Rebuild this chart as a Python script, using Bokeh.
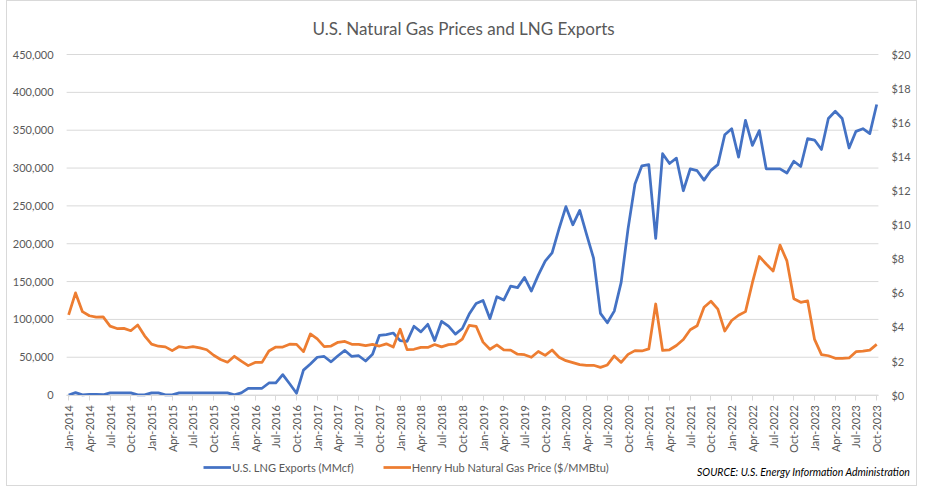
import math
from bokeh.plotting import figure
from bokeh.models import (Range1d, LinearAxis, FixedTicker, NumeralTickFormatter,
                          Legend, LegendItem, ColumnDataSource)
from bokeh.embed import file_html
from bokeh.resources import INLINE

# ---------------- data ----------------
years = list(range(2014, 2024))
month_names = ["Jan", "Feb", "Mar", "Apr", "May", "Jun",
               "Jul", "Aug", "Sep", "Oct", "Nov", "Dec"]
months = [f"{m}-{y}" for y in years for m in month_names][:118]

# U.S. LNG Exports (MMcf)
lng_2014 = [200, 3200, 300, 800, 1000, 500, 3000, 3000, 3000, 3000, 200, 300]
lng_2015 = [3000, 3000, 300, 200, 3000, 3000, 3000, 3000, 3000, 3000, 3000, 3000]
lng_2016 = [300, 3000, 9000, 9000, 9000, 16000, 16000, 27000, 15000, 2500, 33000, 41000]
lng_2017 = [50000, 51000, 44000, 52000, 59000, 51000, 52000, 45000, 54000, 79000, 80000, 82000]
lng_2018 = [72000, 71000, 91000, 83500, 93500, 72000, 97500, 91000, 80500, 88000, 107000, 121000]
lng_2019 = [125000, 101000, 130000, 125500, 144000, 142000, 155500, 137500, 158500, 177000, 188000, 219500]
lng_2020 = [249000, 225000, 244000, 212000, 181000, 108000, 95500, 111000, 149000, 220000, 279000, 303000]
lng_2021 = [304500, 207000, 319000, 306000, 313000, 270000, 299000, 296500, 284000, 297000, 304500, 344000]
lng_2022 = [352000, 314500, 363000, 330000, 349500, 299000, 299000, 299000, 293500, 309000, 302000, 339000]
lng_2023 = [337000, 324500, 365500, 375000, 365500, 326500, 348500, 352000, 345500, 384000]
lng_exports = (lng_2014 + lng_2015 + lng_2016 + lng_2017 + lng_2018 +
               lng_2019 + lng_2020 + lng_2021 + lng_2022 + lng_2023)

# Henry Hub Natural Gas Price ($/MMBtu)
hh_2014 = [4.71, 6.00, 4.90, 4.66, 4.58, 4.59, 4.05, 3.91, 3.92, 3.78, 4.12, 3.48]
hh_2015 = [2.99, 2.87, 2.83, 2.61, 2.85, 2.78, 2.84, 2.77, 2.66, 2.34, 2.09, 1.93]
hh_2016 = [2.28, 1.99, 1.73, 1.92, 1.92, 2.59, 2.82, 2.82, 2.99, 2.98, 2.55, 3.59]
hh_2017 = [3.30, 2.85, 2.88, 3.10, 3.15, 2.98, 2.98, 2.90, 2.98, 2.88, 3.01, 2.82]
hh_2018 = [3.87, 2.67, 2.69, 2.80, 2.80, 2.97, 2.83, 2.96, 3.00, 3.28, 4.09, 4.04]
hh_2019 = [3.11, 2.69, 2.95, 2.65, 2.64, 2.40, 2.37, 2.22, 2.56, 2.33, 2.65, 2.22]
hh_2020 = [2.02, 1.91, 1.79, 1.74, 1.75, 1.63, 1.77, 2.30, 1.92, 2.39, 2.61, 2.59]
hh_2021 = [2.71, 5.35, 2.62, 2.66, 2.91, 3.26, 3.84, 4.07, 5.16, 5.51, 5.05, 3.76]
hh_2022 = [4.38, 4.69, 4.90, 6.60, 8.14, 7.70, 7.28, 8.81, 7.88, 5.66, 5.45, 5.53]
hh_2023 = [3.27, 2.38, 2.31, 2.16, 2.15, 2.18, 2.55, 2.58, 2.64, 2.98]
henry_hub = (hh_2014 + hh_2015 + hh_2016 + hh_2017 + hh_2018 +
             hh_2019 + hh_2020 + hh_2021 + hh_2022 + hh_2023)

tick_positions = list(range(0, len(months), 3))
tick_labels = [months[i] for i in tick_positions]
left_ticks = list(range(0, 450001, 50000))
right_ticks = list(range(0, 21, 2))

series_names = ["U.S. LNG Exports (MMcf)", "Henry Hub Natural Gas Price ($/MMBtu)"]
title_text = "U.S. Natural Gas Prices and LNG Exports"
source_text = "SOURCE: U.S. Energy Information Administration"

# ---------------- styling / layout ----------------
FONT = "Lato"
GREY = "#595959"
GRID = "#D9D9D9"
BLUE = "#4472C4"
ORANGE = "#ED7D31"

LMAX, PMAX = 450000, 20
N = len(months)
# page-pixel geometry of the reference
FIRST_PX, LAST_PX = 68.0, 874.3      # first / last month
AREA_L_PX, AREA_R_PX = 66.0, 876.0   # plot area edges
FRAME_L_PX, FRAME_R_PX = 8.0, 915.0  # bokeh frame edges
per_month = (LAST_PX - FIRST_PX) / (N - 1)
x_start = (FRAME_L_PX - FIRST_PX) / per_month
x_end = (N - 1) + (FRAME_R_PX - LAST_PX) / per_month
area_l = (AREA_L_PX - FIRST_PX) / per_month
area_r = (N - 1) + (AREA_R_PX - LAST_PX) / per_month

PLOT_PX = 339.0          # pixels between 0 and the top of the value axes
BELOW_PX = 90.0          # room under the zero line (axis labels, legend)
ABOVE_PX = 6.0           # room above the top gridline (top tick labels)
lo = BELOW_PX / PLOT_PX
hi = 1 + ABOVE_PX / PLOT_PX

src = ColumnDataSource(dict(x=list(range(N)), lng=lng_exports, hh=henry_hub))

p = figure(width=911, height=486, output_backend="svg", toolbar_location=None,
           x_range=Range1d(x_start, x_end), y_range=Range1d(-LMAX * lo, LMAX * hi),
           min_border_left=1, min_border_right=1, min_border_top=47,
           min_border_bottom=2, title=title_text)
p.extra_y_ranges = {"price": Range1d(-PMAX * lo, PMAX * hi)}
p.outline_line_color = None
p.background_fill_color = "white"
p.border_fill_color = "white"
p.styles = {"border": "1px solid #D9D9D9", "box-sizing": "border-box",
            "margin-left": "6px"}

p.title.align = "left"
p.title.offset = 304
p.title.text_font = FONT
p.title.text_font_size = "17px"
p.title.text_font_style = "normal"
p.title.text_color = GREY
p.title.standoff = 19

# x axis, pinned to the zero line
xa = p.xaxis[0]
xa.fixed_location = 0
xa.bounds = (area_l, area_r)
xa.ticker = FixedTicker(ticks=tick_positions)
xa.major_label_overrides = {i: lbl for i, lbl in zip(tick_positions, tick_labels)}
xa.major_label_orientation = math.pi / 2
xa.major_label_text_font = FONT
xa.major_label_text_font_size = "11px"
xa.major_label_text_color = GREY
xa.axis_line_color = GRID
xa.major_tick_line_color = GRID
xa.major_tick_out = 5
xa.major_tick_in = 0
xa.minor_tick_line_color = None
xa.major_label_standoff = 5

# left axis, pinned to the plot-area edge
ya = p.yaxis[0]
ya.fixed_location = area_l
ya.bounds = (0, LMAX)
ya.ticker = FixedTicker(ticks=left_ticks)
ya.formatter = NumeralTickFormatter(format="0,0")
ya.axis_line_color = None
ya.major_tick_line_color = None
ya.minor_tick_line_color = None
ya.major_tick_out = 0
ya.major_tick_in = 0
ya.major_label_standoff = 13
ya.major_label_text_font = FONT
ya.major_label_text_font_size = "11px"
ya.major_label_text_color = GREY

# right axis, pinned to the other plot-area edge
ra = LinearAxis(y_range_name="price", ticker=FixedTicker(ticks=right_ticks),
                formatter=NumeralTickFormatter(format="$0"))
ra.fixed_location = area_r
ra.bounds = (0, PMAX)
ra.axis_line_color = None
ra.major_tick_line_color = None
ra.minor_tick_line_color = None
ra.major_tick_out = 0
ra.major_tick_in = 0
ra.major_label_standoff = 13
ra.major_label_text_font = FONT
ra.major_label_text_font_size = "11px"
ra.major_label_text_color = GREY
p.add_layout(ra, "right")

# horizontal gridlines limited to the plot area
p.xgrid.grid_line_color = None
p.ygrid.grid_line_color = None
grid_src = ColumnDataSource(dict(x0=[area_l] * len(left_ticks),
                                 x1=[area_r] * len(left_ticks),
                                 y=left_ticks))
p.segment(x0="x0", x1="x1", y0="y", y1="y", source=grid_src,
          line_color=GRID, line_width=1)

r1 = p.line("x", "lng", source=src, line_color=BLUE, line_width=2.75, line_join="round")
r2 = p.line("x", "hh", source=src, y_range_name="price", line_color=ORANGE,
            line_width=2.75, line_join="round")
dummy = p.line(x=[], y=[], line_alpha=0)

legend = Legend(items=[LegendItem(label=series_names[0], renderers=[r1]),
                       LegendItem(label=series_names[1], renderers=[r2])],
                orientation="horizontal", location=(195, 8),
                glyph_width=28, glyph_height=20, label_height=20,
                label_standoff=1, spacing=29,
                padding=0, margin=0, border_line_color=None,
                background_fill_alpha=0,
                label_text_font=FONT, label_text_font_size="11px",
                label_text_color=GREY)
p.add_layout(legend, "center")

source_legend = Legend(items=[LegendItem(label=source_text, renderers=[dummy])],
                       orientation="horizontal", location=(689, 7),
                       glyph_width=0, glyph_height=12, label_height=12,
                       label_standoff=0, padding=0, margin=0,
                       border_line_color=None, background_fill_alpha=0,
                       label_text_font=FONT, label_text_font_size="10.5px",
                       label_text_font_style="italic", label_text_color="black")
p.add_layout(source_legend, "center")

open("out.html", "w").write(file_html(p, INLINE))
